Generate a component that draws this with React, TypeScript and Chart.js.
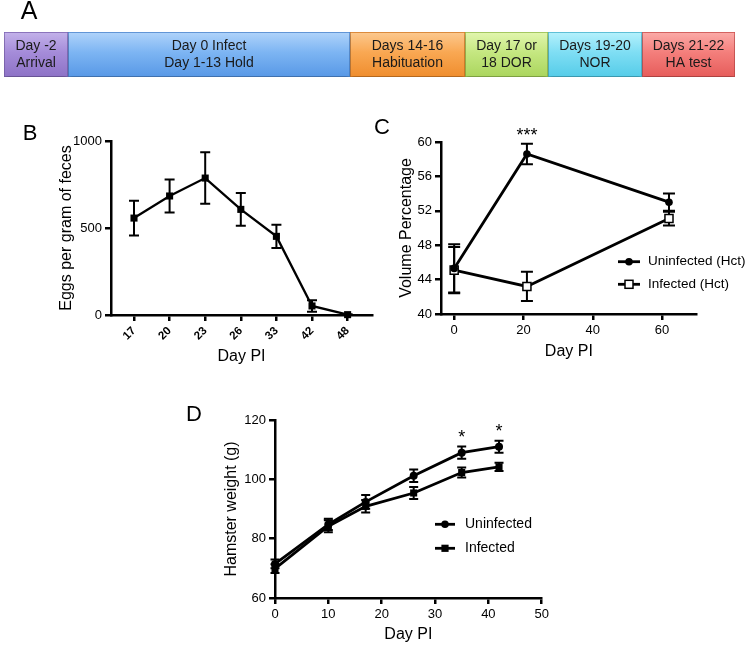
import React, { useEffect, useRef } from "react";
import { Chart, registerables } from "chart.js";

Chart.register(...registerables);

const FONT = '"Liberation Sans", Arial, Helvetica, sans-serif';

// ---------- Panel A: experimental timeline ----------
const phaseLine1 = ["Day -2", "Day 0 Infect", "Days 14-16", "Day 17 or", "Days 19-20", "Days 21-22"];
const phaseLine2 = ["Arrival", "Day 1-13 Hold", "Habituation", "18 DOR", "NOR", "HA test"];
const phaseSpan = [64, 282, 115, 83, 94, 93];
const phaseTop = ["#c3b2ea", "#b0d3fa", "#fcc98f", "#e2f6ae", "#b6f1fc", "#fbaba8"];
const phaseMid = ["#a58cd9", "#7db5f3", "#f9a853", "#c5e781", "#7fdef4", "#f47f7c"];
const phaseBottom = ["#8d72c6", "#5898e6", "#ef8d2e", "#aad55d", "#55cce8", "#e65c5a"];
const phaseBorder = ["#7d64b4", "#4a86d2", "#d97b22", "#95c04b", "#44b6d2", "#cf4d4b"];

// ---------- Panel B: egg counts ----------
const eggDays = ["17", "20", "23", "26", "33", "42", "48"];
const eggMean = [557, 684, 787, 607, 452, 52, 2];
const eggSem = [100, 95, 148, 94, 67, 33, 2];

// ---------- Panel C: hematocrit ----------
const hctDays = [0, 21, 62];
const hctUninfected = [45.3, 58.6, 53.0];
const hctUninfectedSem = [2.8, 1.2, 1.0];
const hctInfected = [45.1, 43.2, 51.1];
const hctInfectedSem = [2.7, 1.7, 0.8];
const hctSignificance = ["", "***", ""];
const hctTicks = [0, 20, 40, 60];

// ---------- Panel D: body weight ----------
const weightDays = [0, 10, 17, 26, 35, 42];
const weightUninfected = [71.5, 84.8, 92.4, 101.2, 109.0, 111.0];
const weightUninfectedSem = [1.5, 1.9, 2.3, 2.1, 2.1, 2.0];
const weightInfected = [69.9, 84.2, 90.9, 95.4, 102.3, 104.2];
const weightInfectedSem = [1.5, 2.0, 2.1, 2.0, 1.7, 1.4];
const weightSignificance = ["", "", "", "", "*", "*"];

function axis(extra: any) {
  const base: any = {
    border: { display: true, color: "#000", width: 2.5 },
    grid: {
      display: true,
      drawOnChartArea: false,
      drawTicks: true,
      tickLength: 6,
      color: "#000",
      lineWidth: 2.5,
    },
    ticks: {
      color: "#000",
      font: { family: FONT, size: 13 },
      padding: 3,
      callback: (v: any) => String(v),
    },
  };
  const out: any = { ...base, ...extra };
  out.ticks = { ...base.ticks, ...(extra.ticks || {}) };
  return out;
}

function title(text: string, pad: any) {
  return { display: true, text, color: "#000", font: { family: FONT, size: 16 }, padding: pad };
}

function errorBars(capHalf: number) {
  return {
    id: "errorBars",
    beforeDatasetsDraw(chart: any) {
      const ctx = chart.ctx;
      const ys = chart.scales.y;
      ctx.save();
      ctx.strokeStyle = "#000";
      ctx.lineWidth = 2;
      chart.data.datasets.forEach((ds: any, di: number) => {
        if (!ds.errors) return;
        const meta = chart.getDatasetMeta(di);
        meta.data.forEach((pt: any, i: number) => {
          const v = ds.data[i].y;
          const e = ds.errors[i];
          const x = pt.x;
          const yT = ys.getPixelForValue(v + e);
          const yB = ys.getPixelForValue(v - e);
          ctx.beginPath();
          ctx.moveTo(x, yT);
          ctx.lineTo(x, yB);
          ctx.moveTo(x - capHalf, yT);
          ctx.lineTo(x + capHalf, yT);
          ctx.moveTo(x - capHalf, yB);
          ctx.lineTo(x + capHalf, yB);
          ctx.stroke();
        });
      });
      ctx.restore();
    },
  };
}

function letter(text: string, x: number, y: number, size: number) {
  return {
    id: "panelLetter",
    afterDraw(chart: any) {
      const ctx = chart.ctx;
      ctx.save();
      ctx.fillStyle = "#000";
      ctx.font = `${size}px ${FONT}`;
      ctx.textAlign = "center";
      ctx.textBaseline = "middle";
      ctx.fillText(text, x, y);
      ctx.restore();
    },
  };
}

function stars(marks: string[], gap: number) {
  return {
    id: "stars",
    afterDatasetsDraw(chart: any) {
      const ctx = chart.ctx;
      const ds: any = chart.data.datasets[0];
      const meta = chart.getDatasetMeta(0);
      ctx.save();
      ctx.fillStyle = "#000";
      ctx.font = `18px ${FONT}`;
      ctx.textAlign = "center";
      ctx.textBaseline = "alphabetic";
      marks.forEach((m, i) => {
        if (!m) return;
        const top = chart.scales.y.getPixelForValue(ds.data[i].y + ds.errors[i]);
        ctx.fillText(m, meta.data[i].x, top - gap + 10);
      });
      ctx.restore();
    },
  };
}

function drawMarker(ctx: any, kind: string, x: number, y: number) {
  ctx.beginPath();
  if (kind === "circle") {
    ctx.arc(x, y, 3.8, 0, Math.PI * 2);
    ctx.fillStyle = "#000";
    ctx.fill();
  } else if (kind === "square") {
    ctx.fillStyle = "#000";
    ctx.fillRect(x - 3.6, y - 3.6, 7.2, 7.2);
  } else {
    ctx.fillStyle = "#fff";
    ctx.fillRect(x - 4, y - 4, 8, 8);
    ctx.lineWidth = 1.5;
    ctx.strokeStyle = "#000";
    ctx.strokeRect(x - 4, y - 4, 8, 8);
  }
}

function legend(rows: number[], x0: number, x1: number, textX: number, kinds: string[], size: number) {
  return {
    id: "customLegend",
    afterDraw(chart: any) {
      const ctx = chart.ctx;
      ctx.save();
      chart.data.datasets.forEach((ds: any, i: number) => {
        const y = rows[i];
        ctx.strokeStyle = "#000";
        ctx.lineWidth = 2.8;
        ctx.beginPath();
        ctx.moveTo(x0, y);
        ctx.lineTo(x1, y);
        ctx.stroke();
        drawMarker(ctx, kinds[i], (x0 + x1) / 2, y);
        ctx.fillStyle = "#000";
        ctx.font = `${size}px ${FONT}`;
        ctx.textAlign = "left";
        ctx.textBaseline = "middle";
        ctx.fillText(ds.label, textX, y);
      });
      ctx.restore();
    },
  };
}

const baseOpts = (padding: any) => ({
  responsive: false,
  animation: false as const,
  devicePixelRatio: 1,
  layout: { padding, autoPadding: false },
  plugins: { legend: { display: false }, tooltip: { enabled: false } },
});

export default function App() {
  const aRef = useRef<HTMLCanvasElement>(null);
  const bRef = useRef<HTMLCanvasElement>(null);
  const cRef = useRef<HTMLCanvasElement>(null);
  const dRef = useRef<HTMLCanvasElement>(null);

  useEffect(() => {
    const charts: Chart[] = [];

    // ----- A -----
    const total = phaseSpan.reduce((s, v) => s + v, 0);
    const grad = (i: number) => (c: any) => {
      const area = c.chart.chartArea;
      if (!area) return phaseMid[i];
      const g = c.chart.ctx.createLinearGradient(0, area.top, 0, area.bottom);
      g.addColorStop(0, phaseTop[i]);
      g.addColorStop(0.45, phaseMid[i]);
      g.addColorStop(1, phaseBottom[i]);
      return g;
    };
    charts.push(
      new Chart(aRef.current!, {
        type: "bar",
        data: {
          labels: ["timeline"],
          datasets: phaseSpan.map((v, i) => ({
            label: phaseLine1[i],
            data: [v],
            backgroundColor: grad(i),
            borderColor: phaseBorder[i],
            borderWidth: 1,
            borderSkipped: false,
            categoryPercentage: 1,
            barPercentage: 1,
          })) as any,
        },
        options: {
          ...baseOpts({ left: 4, right: 13, top: 32, bottom: 23 }),
          indexAxis: "y",
          scales: {
            x: { stacked: true, display: false, min: 0, max: total },
            y: { stacked: true, display: false },
          },
        } as any,
        plugins: [
          {
            id: "shadow",
            beforeDatasetsDraw(chart: any) {
              const ctx = chart.ctx;
              ctx.save();
              ctx.shadowColor = "rgba(0,0,0,0.35)";
              ctx.shadowBlur = 4;
              ctx.shadowOffsetY = 2;
            },
            afterDatasetsDraw(chart: any) {
              chart.ctx.restore();
            },
          },
          {
            id: "phaseText",
            afterDatasetsDraw(chart: any) {
              const ctx = chart.ctx;
              ctx.save();
              ctx.fillStyle = "#1a1a1a";
              ctx.font = `14px ${FONT}`;
              ctx.textAlign = "center";
              ctx.textBaseline = "middle";
              chart.data.datasets.forEach((_: any, i: number) => {
                const el: any = chart.getDatasetMeta(i).data[0];
                const cx = (el.x + el.base) / 2;
                ctx.fillText(phaseLine1[i], cx, el.y - 8.5);
                ctx.fillText(phaseLine2[i], cx, el.y + 8.5);
              });
              ctx.restore();
            },
          },
          letter("A", 29, 12, 25),
        ],
      })
    );

    // ----- B -----
    charts.push(
      new Chart(bRef.current!, {
        type: "line",
        data: {
          datasets: [
            {
              label: "Eggs",
              data: eggMean.map((v, i) => ({ x: i, y: v })),
              errors: eggSem,
              borderColor: "#000",
              borderWidth: 2.3,
              backgroundColor: "#000",
              pointStyle: "rect",
              pointRadius: 5,
              pointBorderWidth: 0,
              tension: 0,
              clip: false,
            } as any,
          ],
        },
        options: {
          ...baseOpts({ left: 0, right: 13, top: 31, bottom: 0 }),
          scales: {
            x: axis({
              type: "linear",
              min: -0.646,
              max: 6.685,
              afterBuildTicks: (s: any) => {
                s.ticks = eggDays.map((_, i) => ({ value: i }));
              },
              afterFit: (s: any) => {
                s.height = 65;
              },
              ticks: {
                minRotation: 45,
                maxRotation: 45,
                font: { family: FONT, size: 11.5, weight: "bold" },
                padding: 3,
                callback: (v: any) => eggDays[v] ?? "",
              },
              title: title("Day PI", { top: 0, bottom: 13.4 }),
            }),
            y: axis({
              type: "linear",
              min: 0,
              max: 1000,
              afterBuildTicks: (s: any) => {
                s.ticks = [0, 500, 1000].map((v) => ({ value: v }));
              },
              afterFit: (s: any) => {
                s.width = 111;
              },
              title: title("Eggs per gram of feces", { top: 57.4, bottom: 0 }),
            }),
          },
        } as any,
        plugins: [errorBars(5), letter("B", 30, 24, 22)],
      })
    );

    // ----- C -----
    charts.push(
      new Chart(cRef.current!, {
        type: "line",
        data: {
          datasets: [
            {
              label: "Uninfected (Hct)",
              data: hctUninfected.map((v, i) => ({ x: hctDays[i], y: v })),
              errors: hctUninfectedSem,
              borderColor: "#000",
              borderWidth: 2.8,
              backgroundColor: "#000",
              pointStyle: "circle",
              pointRadius: 3.8,
              pointBorderWidth: 0,
              tension: 0,
              clip: false,
            } as any,
            {
              label: "Infected (Hct)",
              data: hctInfected.map((v, i) => ({ x: hctDays[i], y: v })),
              errors: hctInfectedSem,
              borderColor: "#000",
              borderWidth: 2.8,
              backgroundColor: "#fff",
              pointBackgroundColor: "#fff",
              pointBorderColor: "#000",
              pointStyle: "rect",
              pointRadius: 5.7,
              pointBorderWidth: 1.5,
              tension: 0,
              clip: false,
            } as any,
          ],
        },
        options: {
          ...baseOpts({ left: 0, right: 51.3, top: 32, bottom: 0 }),
          scales: {
            x: axis({
              type: "linear",
              min: -3.8,
              max: 70,
              afterBuildTicks: (s: any) => {
                s.ticks = hctTicks.map((v) => ({ value: v }));
              },
              afterFit: (s: any) => {
                s.height = 66;
              },
              title: title("Day PI", { top: 0, bottom: 18.4 }),
            }),
            y: axis({
              type: "linear",
              min: 40,
              max: 60,
              ticks: { stepSize: 4 },
              afterFit: (s: any) => {
                s.width = 86;
              },
              title: title("Volume Percentage", { top: 42.4, bottom: 0 }),
            }),
          },
        } as any,
        plugins: [
          errorBars(6),
          stars(hctSignificance, 12.7),
          legend([151.7, 174.3], 263, 285, 293, ["circle", "open"], 13.5),
          letter("C", 27, 18, 22),
        ],
      })
    );

    // ----- D -----
    charts.push(
      new Chart(dRef.current!, {
        type: "line",
        data: {
          datasets: [
            {
              label: "Uninfected",
              data: weightUninfected.map((v, i) => ({ x: weightDays[i], y: v })),
              errors: weightUninfectedSem,
              borderColor: "#000",
              borderWidth: 2.8,
              backgroundColor: "#000",
              pointStyle: "circle",
              pointRadius: 4,
              pointBorderWidth: 0,
              tension: 0,
              clip: false,
            } as any,
            {
              label: "Infected",
              data: weightInfected.map((v, i) => ({ x: weightDays[i], y: v })),
              errors: weightInfectedSem,
              borderColor: "#000",
              borderWidth: 2.8,
              backgroundColor: "#000",
              pointStyle: "rect",
              pointRadius: 5,
              pointBorderWidth: 0,
              tension: 0,
              clip: false,
            } as any,
          ],
        },
        options: {
          ...baseOpts({ left: 0, right: 28.3, top: 25, bottom: 0 }),
          scales: {
            x: axis({
              type: "linear",
              min: 0,
              max: 50,
              ticks: { stepSize: 10 },
              afterFit: (s: any) => {
                s.height = 49;
              },
              title: title("Day PI", { top: 0, bottom: 2.4 }),
            }),
            y: axis({
              type: "linear",
              min: 60,
              max: 120,
              ticks: { stepSize: 20 },
              afterFit: (s: any) => {
                s.width = 105;
              },
              title: title("Hamster weight (g)", { top: 52.4, bottom: 0 }),
            }),
          },
        } as any,
        plugins: [
          errorBars(4.5),
          stars(weightSignificance, 13.5),
          legend([129.3, 153.3], 265, 285, 295, ["circle", "square"], 14),
          letter("D", 24, 20, 22),
        ],
      })
    );

    return () => charts.forEach((c) => c.destroy());
  }, []);

  const cv = (left: number, top: number, w: number, h: number): React.CSSProperties => ({
    position: "absolute",
    left,
    top,
    width: w,
    height: h,
  });

  return (
    <div style={{ position: "absolute", left: 0, top: 0, width: 748, height: 647, background: "#fff" }}>
      <canvas ref={aRef} width={748} height={100} style={cv(0, 0, 748, 100)} />
      <canvas ref={bRef} width={385} height={270} style={cv(0, 110, 385, 270)} />
      <canvas ref={cRef} width={393} height={270} style={cv(355, 110, 393, 270)} />
      <canvas ref={dRef} width={400} height={252} style={cv(170, 395, 400, 252)} />
    </div>
  );
}
